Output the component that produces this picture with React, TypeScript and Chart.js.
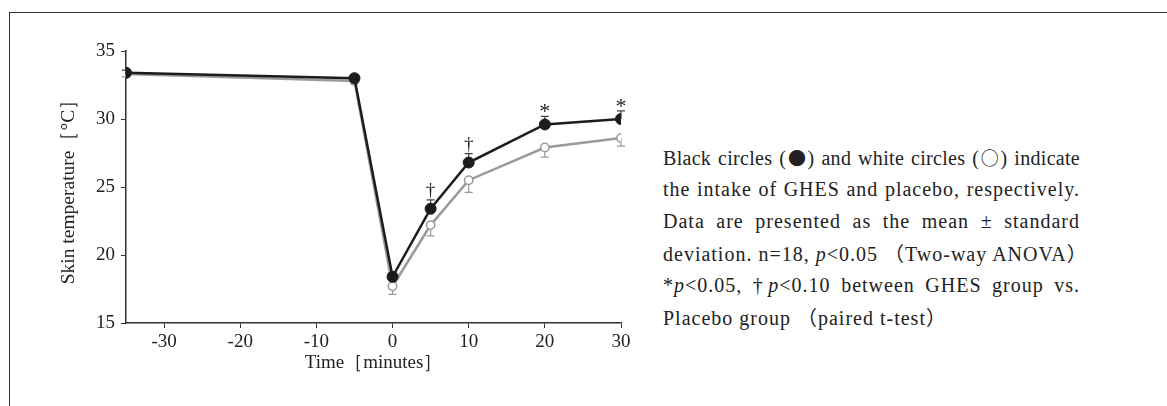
import React, { useEffect, useRef } from "react";
import { Chart, registerables } from "chart.js";

Chart.register(...registerables);

const times = [-35, -5, 0, 5, 10, 20, 30];
const ghes = [33.4, 33.0, 18.4, 23.4, 26.8, 29.6, 30.0];
const placebo = [33.3, 32.8, 17.7, 22.2, 25.5, 27.9, 28.6];
const ghesSd = [0.2, 0.2, 0.3, 0.65, 0.65, 0.6, 0.6];
const placeboSd = [0.2, 0.2, 0.6, 0.8, 0.9, 0.7, 0.6];
const marks = ["", "", "", "†", "†", "*", "*"];
const xTicks = [-30, -20, -10, 0, 10, 20, 30];
const yTicks = [15, 20, 25, 30, 35];

const FONT = '"Liberation Serif", "DejaVu Serif", serif';
const CJK = '"Noto Sans CJK JP", sans-serif';
const BLACK = "#1c1c1c";
const GRAY = "#9a9a9a";

const errPlugin = {
  id: "errbars",
  beforeDatasetsDraw(chart: any) {
    const ctx = chart.ctx;
    const xs = chart.scales.x;
    const ys = chart.scales.y;
    const draw = (vals: number[], sds: number[], dir: number, color: string) => {
      ctx.save();
      ctx.strokeStyle = color;
      ctx.lineWidth = 1.2;
      vals.forEach((v, i) => {
        const px = xs.getPixelForValue(times[i]);
        const y0 = ys.getPixelForValue(v);
        const y1 = ys.getPixelForValue(v + dir * sds[i]);
        ctx.beginPath();
        ctx.moveTo(px, y0);
        ctx.lineTo(px, y1);
        ctx.moveTo(px - 4, y1);
        ctx.lineTo(px + 4, y1);
        ctx.stroke();
      });
      ctx.restore();
    };
    draw(placebo, placeboSd, -1, GRAY);
    draw(ghes, ghesSd, 1, "#444");
  },
  afterDatasetsDraw(chart: any) {
    const ctx = chart.ctx;
    const xs = chart.scales.x;
    const ys = chart.scales.y;
    ctx.save();
    ctx.fillStyle = "#222";
    ctx.textAlign = "center";
    ctx.textBaseline = "alphabetic";
    marks.forEach((m, i) => {
      if (!m) return;
      const px = xs.getPixelForValue(times[i]);
      const py = ys.getPixelForValue(ghes[i] + ghesSd[i]);
      ctx.font = m === "*" ? `22px ${FONT}` : `19px ${FONT}`;
      ctx.fillText(m, px, py - (m === "*" ? -2 : 4));
    });
    ctx.restore();
  },
};

function App() {
  const ref = useRef<HTMLCanvasElement>(null);
  useEffect(() => {
    if (!ref.current) return;
    const chart = new Chart(ref.current, {
      type: "line",
      data: {
        datasets: [
          {
            label: "GHES",
            data: times.map((t, i) => ({ x: t, y: ghes[i] })),
            borderColor: BLACK,
            backgroundColor: BLACK,
            borderWidth: 2.5,
            pointRadius: 5.5,
            pointBorderWidth: 1,
            pointBackgroundColor: BLACK,
            pointBorderColor: BLACK,
          },
          {
            label: "Placebo",
            data: times.map((t, i) => ({ x: t, y: placebo[i] })),
            borderColor: GRAY,
            backgroundColor: "#fff",
            borderWidth: 2.5,
            pointRadius: 4.2,
            pointBorderWidth: 1.5,
            pointBackgroundColor: "#fff",
            pointBorderColor: GRAY,
          },
        ],
      },
      options: {
        animation: false,
        responsive: false,
        maintainAspectRatio: false,
        layout: { padding: { left: 0, top: 51, right: 39, bottom: 0 } },
        plugins: {
          legend: { display: false },
          tooltip: { enabled: false },
        },
        scales: {
          x: {
            type: "linear",
            min: -35,
            max: 30,
            afterBuildTicks: (s: any) => {
              s.ticks = xTicks.map((v) => ({ value: v }));
            },
            afterFit: (s: any) => {
              s.height = 83;
            },
            grid: { display: true, drawOnChartArea: false, drawTicks: true, tickLength: 5, color: "#333" },
            border: { display: true, color: "#333", width: 1.5 },
            ticks: { color: "#222", font: { family: FONT, size: 19 }, padding: 3 },
            title: {
              display: true,
              text: "Time［minutes］",
              color: "#222",
              font: { family: FONT, size: 19 },
              padding: { top: 0, bottom: 32 },
            },
          },
          y: {
            type: "linear",
            min: 15,
            max: 35,
            afterBuildTicks: (s: any) => {
              s.ticks = yTicks.map((v) => ({ value: v }));
            },
            afterFit: (s: any) => {
              s.width = 126;
            },
            grid: { display: true, drawOnChartArea: false, drawTicks: true, tickLength: 5, color: "#333" },
            border: { display: true, color: "#333", width: 1.5 },
            ticks: { color: "#222", font: { family: FONT, size: 19 }, padding: 6 },
            title: {
              display: true,
              text: "Skin temperature［°C］",
              color: "#222",
              font: { family: FONT, size: 19.5 },
              padding: { top: 57, bottom: 0 },
            },
          },
        },
      },
      plugins: [errPlugin],
    });
    return () => chart.destroy();
  }, []);

  const lineStyle: React.CSSProperties = {
    height: 32,
    lineHeight: "32px",
    textAlign: "justify",
    textAlignLast: "justify" as any,
    whiteSpace: "nowrap",
  };
  const it: React.CSSProperties = { fontStyle: "italic" };
  const cj: React.CSSProperties = { fontFamily: CJK };
  const dot: React.CSSProperties = { fontFamily: CJK, fontSize: 18, letterSpacing: 0 };

  return (
    <div style={{ position: "fixed", left: 0, top: 0, width: 1167, height: 406, background: "#fff", overflow: "hidden" }}>
      <div
        style={{
          position: "absolute",
          left: 9,
          top: 12,
          width: 1200,
          height: 420,
          borderTop: "1.5px solid #333",
          borderLeft: "1.5px solid #333",
        }}
      />
      <canvas ref={ref} width={660} height={406} style={{ position: "absolute", left: 0, top: 0, width: 660, height: 406 }} />
      <div
        style={{
          position: "absolute",
          left: 663,
          top: 141,
          width: 417,
          fontFamily: FONT,
          fontSize: 20,
          color: "#222",
          letterSpacing: "1px",
        }}
      >
        <div style={{ ...lineStyle, letterSpacing: "0.3px" }}>
          Black circles (<span style={dot}>●</span>) and white circles (<span style={dot}>○</span>) indicate
        </div>
        <div style={lineStyle}>the intake of GHES and placebo, respectively.</div>
        <div style={lineStyle}>Data are presented as the mean ± standard</div>
        <div style={lineStyle}>
          deviation. n=18, <span style={it}>p</span>&lt;0.05 <span style={cj}>（</span>Two-way ANOVA<span style={cj}>）</span>
        </div>
        <div style={lineStyle}>
          *<span style={it}>p</span>&lt;0.05, †<span style={it}>p</span>&lt;0.10 between GHES group vs.
        </div>
        <div style={{ ...lineStyle, textAlign: "left", textAlignLast: "left" as any }}>
          Placebo group <span style={cj}>（</span>paired t-test<span style={cj}>）</span>
        </div>
      </div>
    </div>
  );
}

export default App;
